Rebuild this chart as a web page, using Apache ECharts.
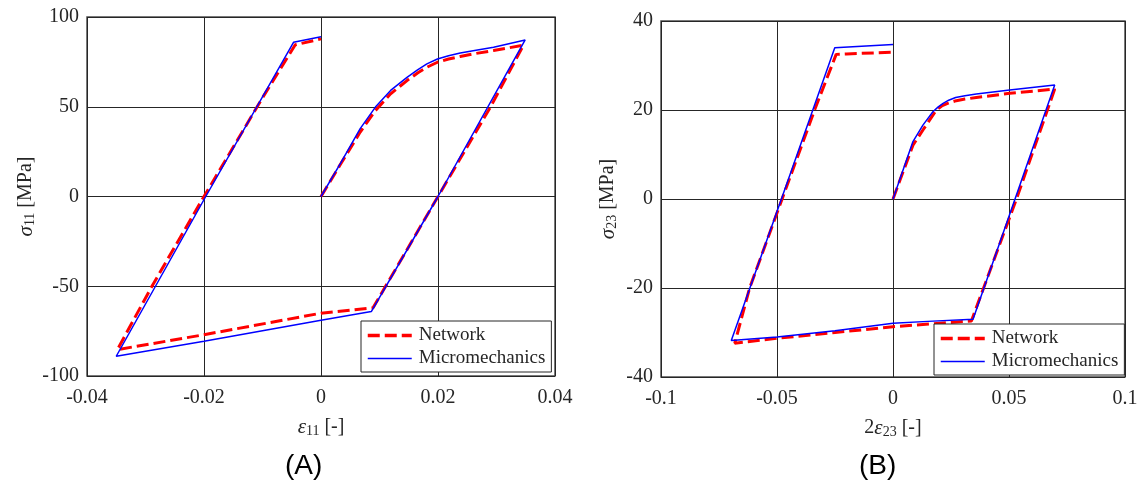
<!DOCTYPE html>
<html><head><meta charset="utf-8">
<script src="https://cdn.jsdelivr.net/npm/echarts@6/dist/echarts.min.js"></script>
<style>html,body{margin:0;padding:0;background:#fff}#c{width:1142px;height:485px}</style>
</head><body><div id="c"></div>
<script>
// Panel A: sigma11 vs eps11
const xA_micro = [0, 0.0033, 0.0067, 0.0093, 0.0119, 0.0147, 0.0165, 0.0181, 0.0199, 0.0218, 0.0238, 0.0265, 0.0295, 0.0349, 0.0200, 0.0086, 0, -0.0200, -0.0350, -0.0197, -0.0047, 0];
const yA_micro = [0, 18.3, 37.8, 49.8, 59.1, 66.4, 70.6, 73.9, 76.6, 78.4, 79.9, 81.5, 83.1, 87.2, 0, -64.1, -69.0, -80.6, -89.0, 0, 85.9, 89.0];
const xA_net = [0, 0.0033, 0.0067, 0.0093, 0.0119, 0.0147, 0.0165, 0.0181, 0.0199, 0.0218, 0.0238, 0.0265, 0.0295, 0.0346, 0.0290, 0.0200, 0.0089, 0, -0.0200, -0.0348, -0.0289, -0.0200, -0.0100, -0.0044, 0];
const yA_net = [0, 17.8, 35.9, 47.9, 57.2, 64.6, 68.8, 72.0, 74.8, 76.6, 78.0, 79.7, 81.3, 84.3, 50, 0, -62.0, -65.0, -77.0, -85.3, -50, 0, 55, 84.5, 87.8];
// Panel B: sigma23 vs 2eps23
const xB_micro = [0, 0.0086, 0.0129, 0.0172, 0.0195, 0.0216, 0.0240, 0.0270, 0.0310, 0.0359, 0.0503, 0.0697, 0.0526, 0.0345, 0.0150, 0, -0.0250, -0.0500, -0.0697, -0.0481, -0.0251, 0];
const yB_micro = [0, 12.9, 16.6, 19.6, 20.7, 21.5, 22.2, 22.8, 23.2, 23.6, 24.5, 25.6, 0, -27.0, -27.5, -27.9, -29.6, -31.0, -31.8, 0, 34.0, 34.7];
const xB_net = [0, 0.0086, 0.0129, 0.0187, 0.0210, 0.0240, 0.0273, 0.0310, 0.0359, 0.0503, 0.0697, 0.0532, 0.0338, 0, -0.0250, -0.0500, -0.0682, -0.0618, -0.0478, -0.0338, -0.0245, -0.0200, 0];
const yB_net = [0, 12.1, 15.5, 20.0, 20.9, 21.6, 22.1, 22.45, 22.8, 23.75, 24.7, 0, -27.4, -28.7, -30.0, -31.3, -32.4, -20, 0, 20, 32.5, 32.6, 33.0];
const seriesNames = ['Network', 'Micromechanics'];
const xTicksA = [-0.04, 0.04, 0.02];
const yTicksA = [-100, 100, 50];
const xTicksB = [-0.1, 0.1, 0.05];
const yTicksB = [-40, 40, 20];

const zip = (xs, ys) => xs.map((x, i) => [x, ys[i]]);
const SERIF = '"Liberation Serif", "DejaVu Serif", serif';
const tickLabel = {color: '#262626', fontFamily: SERIF, fontSize: 20};
const split = {show: true, lineStyle: {color: '#262626', width: 1}};
const rich = {i: {fontFamily: SERIF, fontStyle: 'italic', fontSize: 21, color: '#262626'},
              s: {fontFamily: SERIF, fontSize: 14, color: '#262626', padding: [8, 0, 0, 0]},
              n: {fontFamily: SERIF, fontSize: 20, color: '#262626'}};

function xAxis(idx, t, nm) {
  return {type: 'value', gridIndex: idx, min: t[0], max: t[1], interval: t[2],
    axisLine: {show: false}, axisTick: {show: false}, splitLine: split,
    axisLabel: Object.assign({margin: 12}, tickLabel),
    name: nm, nameLocation: 'middle', nameGap: 40,
    nameTextStyle: {fontFamily: SERIF, fontSize: 20, color: '#262626', rich: rich}};
}
function yAxis(idx, t, nm, gap) {
  return {type: 'value', gridIndex: idx, min: t[0], max: t[1], interval: t[2],
    axisLine: {show: false}, axisTick: {show: false}, splitLine: split,
    axisLabel: Object.assign({margin: 8}, tickLabel),
    name: nm, nameLocation: 'middle', nameGap: gap, nameRotate: 90,
    nameTextStyle: {fontFamily: SERIF, fontSize: 20, color: '#262626', rich: rich}};
}
const netStyle = {color: '#ff0000', width: 3, type: [12, 5]};
const microStyle = {color: '#0000ff', width: 1.5};
function legend(left, top) {
  return {left: left, top: top, orient: 'vertical',
    data: [{name: seriesNames[0], lineStyle: {width: 3.5, type: [12, 5], color: '#ff0000'}},
           {name: seriesNames[1], lineStyle: {width: 1.5, color: '#0000ff'}}],
    backgroundColor: '#fff', borderColor: '#262626', borderWidth: 1,
    padding: [5, 6, 4, 5], itemGap: 4, itemWidth: 44, itemHeight: 20,
    itemStyle: {opacity: 0},
    textStyle: {fontFamily: SERIF, fontSize: 19, color: '#262626', padding: [0, 0, 0, 2]},
    selectedMode: false};
}
const chart = echarts.init(document.getElementById('c'), null, {renderer: 'canvas'});
chart.setOption({
  animation: false,
  grid: [
    {left: 87, top: 17, width: 468, height: 359, show: true, borderColor: '#4d4d4d', borderWidth: 1.5, containLabel: false},
    {left: 661, top: 21, width: 464, height: 356, show: true, borderColor: '#4d4d4d', borderWidth: 1.5, containLabel: false}
  ],
  xAxis: [
    xAxis(0, xTicksA, '{i|ε}{s|11} {n|[-]}'),
    xAxis(1, xTicksB, '{n|2}{i|ε}{s|23} {n|[-]}')
  ],
  yAxis: [
    yAxis(0, yTicksA, '{i|σ}{s|11} {n|[MPa]}', 50),
    yAxis(1, yTicksB, '{i|σ}{s|23} {n|[MPa]}', 42)
  ],
  legend: [legend(361, 321), legend(934, 324)],
  series: [
    {name: seriesNames[0], type: 'line', xAxisIndex: 0, yAxisIndex: 0, data: zip(xA_net, yA_net), symbol: 'none', lineStyle: netStyle, itemStyle: {color: '#ff0000'}, z: 3},
    {name: seriesNames[1], type: 'line', xAxisIndex: 0, yAxisIndex: 0, data: zip(xA_micro, yA_micro), symbol: 'none', lineStyle: microStyle, itemStyle: {color: '#0000ff'}, z: 4},
    {name: seriesNames[0], type: 'line', xAxisIndex: 1, yAxisIndex: 1, data: zip(xB_net, yB_net), symbol: 'none', lineStyle: netStyle, itemStyle: {color: '#ff0000'}, z: 3},
    {name: seriesNames[1], type: 'line', xAxisIndex: 1, yAxisIndex: 1, data: zip(xB_micro, yB_micro), symbol: 'none', lineStyle: microStyle, itemStyle: {color: '#0000ff'}, z: 4}
  ],
  graphic: [
    {type: 'text', left: 285, top: 452, style: {text: '(A)', font: '28px "Liberation Sans", Arial, sans-serif', fill: '#000'}},
    {type: 'text', left: 859, top: 452, style: {text: '(B)', font: '28px "Liberation Sans", Arial, sans-serif', fill: '#000'}}
  ]
});
</script></body></html>
